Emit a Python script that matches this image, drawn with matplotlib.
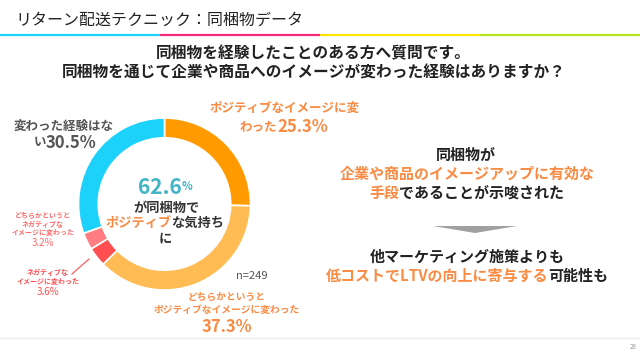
import matplotlib
matplotlib.use('Agg')
import matplotlib.pyplot as plt
from matplotlib.patches import Polygon

plt.rcParams['font.family'] = ['Noto Sans CJK JP', 'DejaVu Sans']

# データ
labels = ['ポジティブなイメージに変わった', 'どちらかというとポジティブなイメージに変わった',
          'ネガティブなイメージに変わった', 'どちらかというとネガティブなイメージに変わった',
          '変わった経験はない']
values = [25.3, 37.3, 3.6, 3.2, 30.5]
colors = ['#FF9A00', '#FFBC55', '#FF4F50', '#FF7D80', '#1CD2FA']
n_total = 249
positive_share = 62.6

ORANGE = '#F98B43'
DARK = '#222222'
GRAY = '#555555'

fig = plt.figure(figsize=(6.4, 3.6), dpi=100)
ax = fig.add_axes([0, 0, 1, 1])
ax.set_xlim(0, 640)
ax.set_ylim(360, 0)
ax.axis('off')

# ドーナツ
cx, cy, r = 164.5, 204, 86
pax = fig.add_axes([(cx - r) / 640, (360 - cy - r) / 360, 2 * r / 640, 2 * r / 360])
pax.pie(values, colors=colors, startangle=90, counterclock=False,
        wedgeprops=dict(width=0.23, edgecolor='white', linewidth=1.2))
pax.set_aspect('equal')
pax.set_xlim(-1, 1)
pax.set_ylim(-1, 1)
pax.axis('off')

renderer = fig.canvas.get_renderer()


def rich(x, y, parts):
    # parts: (text, color, size, weight) を横に並べて中央揃え
    objs = []
    for s, c, sz, w in parts:
        objs.append(ax.text(0, y, s, color=c, fontsize=sz, fontweight=w,
                            ha='left', va='center'))
    widths = [t.get_window_extent(renderer).width * 640 / fig.bbox.width for t in objs]
    start = x - sum(widths) / 2
    for t, w in zip(objs, widths):
        t.set_x(start)
        start += w


# タイトル
ax.text(15, 20, 'リターン配送テクニック：同梱物データ', fontsize=11.5, color=DARK,
        ha='left', va='center')
for x0, x1, c in [(0, 160, '#1CD2FA'), (160, 320, '#F7287B'),
                  (320, 480, '#FFE500'), (480, 640, '#B5E61D')]:
    ax.plot([x0, x1], [34.5, 34.5], color=c, lw=1.6, solid_capstyle='butt')

# 質問
ax.text(313, 53, '同梱物を経験したことのある方へ質問です。', fontsize=11.3, fontweight='bold',
        color=DARK, ha='center', va='center')
ax.text(314, 73, '同梱物を通じて企業や商品へのイメージが変わった経験はありますか？', fontsize=11.3,
        fontweight='bold', color=DARK, ha='center', va='center')

# 中心テキスト
rich(165, 187, [(f'{positive_share}', '#41B5C6', 15, 'bold'), ('%', '#41B5C6', 8, 'bold')])
ax.text(166, 208, 'が同梱物で', fontsize=9.5, fontweight='bold', color='#333333',
        ha='center', va='center')
rich(165, 223, [('ポジティブ', ORANGE, 9.5, 'bold'), ('な気持ち', '#333333', 9.5, 'bold')])
ax.text(165, 239, 'に', fontsize=9.5, fontweight='bold', color='#333333',
        ha='center', va='center')

# ラベル
ax.text(284, 108, 'ポジティブなイメージに変', fontsize=9, fontweight='bold', color=ORANGE,
        ha='center', va='center')
rich(284, 127, [('わった', ORANGE, 9, 'bold'), (f'{values[0]}%', ORANGE, 12, 'bold')])

ax.text(64, 126, '変わった経験はな', fontsize=9, fontweight='bold', color=GRAY,
        ha='center', va='center')
rich(65, 143, [('い', GRAY, 9, 'bold'), (f'{values[4]}%', GRAY, 12, 'bold')])

for i, s in enumerate(['どちらかというと', 'ネガティブな', 'イメージに変わった']):
    ax.text(43, 216 + 8 * i, s, fontsize=5, fontweight='bold', color='#FF6B6B',
            ha='center', va='center')
ax.text(43, 243, f'{values[3]}%', fontsize=7, color='#FF6B6B', ha='center', va='center')

for i, s in enumerate(['ネガティブな', 'イメージに変わった']):
    ax.text(48, 272 + 9 * i, s, fontsize=5, fontweight='bold', color='#FF4F50',
            ha='center', va='center')
ax.text(48, 292, f'{values[2]}%', fontsize=7, color='#FF4F50', ha='center', va='center')
ax.plot([72, 89], [274, 259], color='#FF4F50', lw=0.8)

ax.text(252, 276, f'n={n_total}', fontsize=8, color=GRAY, ha='center', va='center')

ax.text(227, 297, 'どちらかというと', fontsize=7, fontweight='bold', color=ORANGE,
        ha='center', va='center')
ax.text(227, 310, 'ポジティブなイメージに変わった', fontsize=7, fontweight='bold', color=ORANGE,
        ha='center', va='center')
ax.text(227, 327, f'{values[1]}%', fontsize=12, fontweight='bold', color=ORANGE,
        ha='center', va='center')

# 右側のまとめ
FS = 10.8
ax.text(466, 155, '同梱物が', fontsize=FS, fontweight='bold', color=DARK,
        ha='center', va='center')
ax.text(467, 174, '企業や商品のイメージアップに有効な', fontsize=FS, fontweight='bold',
        color=ORANGE, ha='center', va='center')
rich(467, 193, [('手段', ORANGE, FS, 'bold'), ('であることが示唆された', DARK, FS, 'bold')])

ax.add_patch(Polygon([[433, 226], [517, 226], [475, 233]], closed=True,
                     facecolor='#A0A0A0', edgecolor='none'))

ax.text(467, 257, '他マーケティング施策よりも', fontsize=FS, fontweight='bold', color=DARK,
        ha='center', va='center')
rich(467, 276, [('低コストでLTVの向上に寄与する', ORANGE, FS, 'bold'),
                ('可能性も', DARK, FS, 'bold')])

# フッター
ax.plot([0, 640], [338, 338], color='#EEEEEE', lw=1)
ax.text(637, 347, '28', fontsize=4.5, color='#999999', ha='right', va='center')

fig.savefig('out.png', dpi=100)
